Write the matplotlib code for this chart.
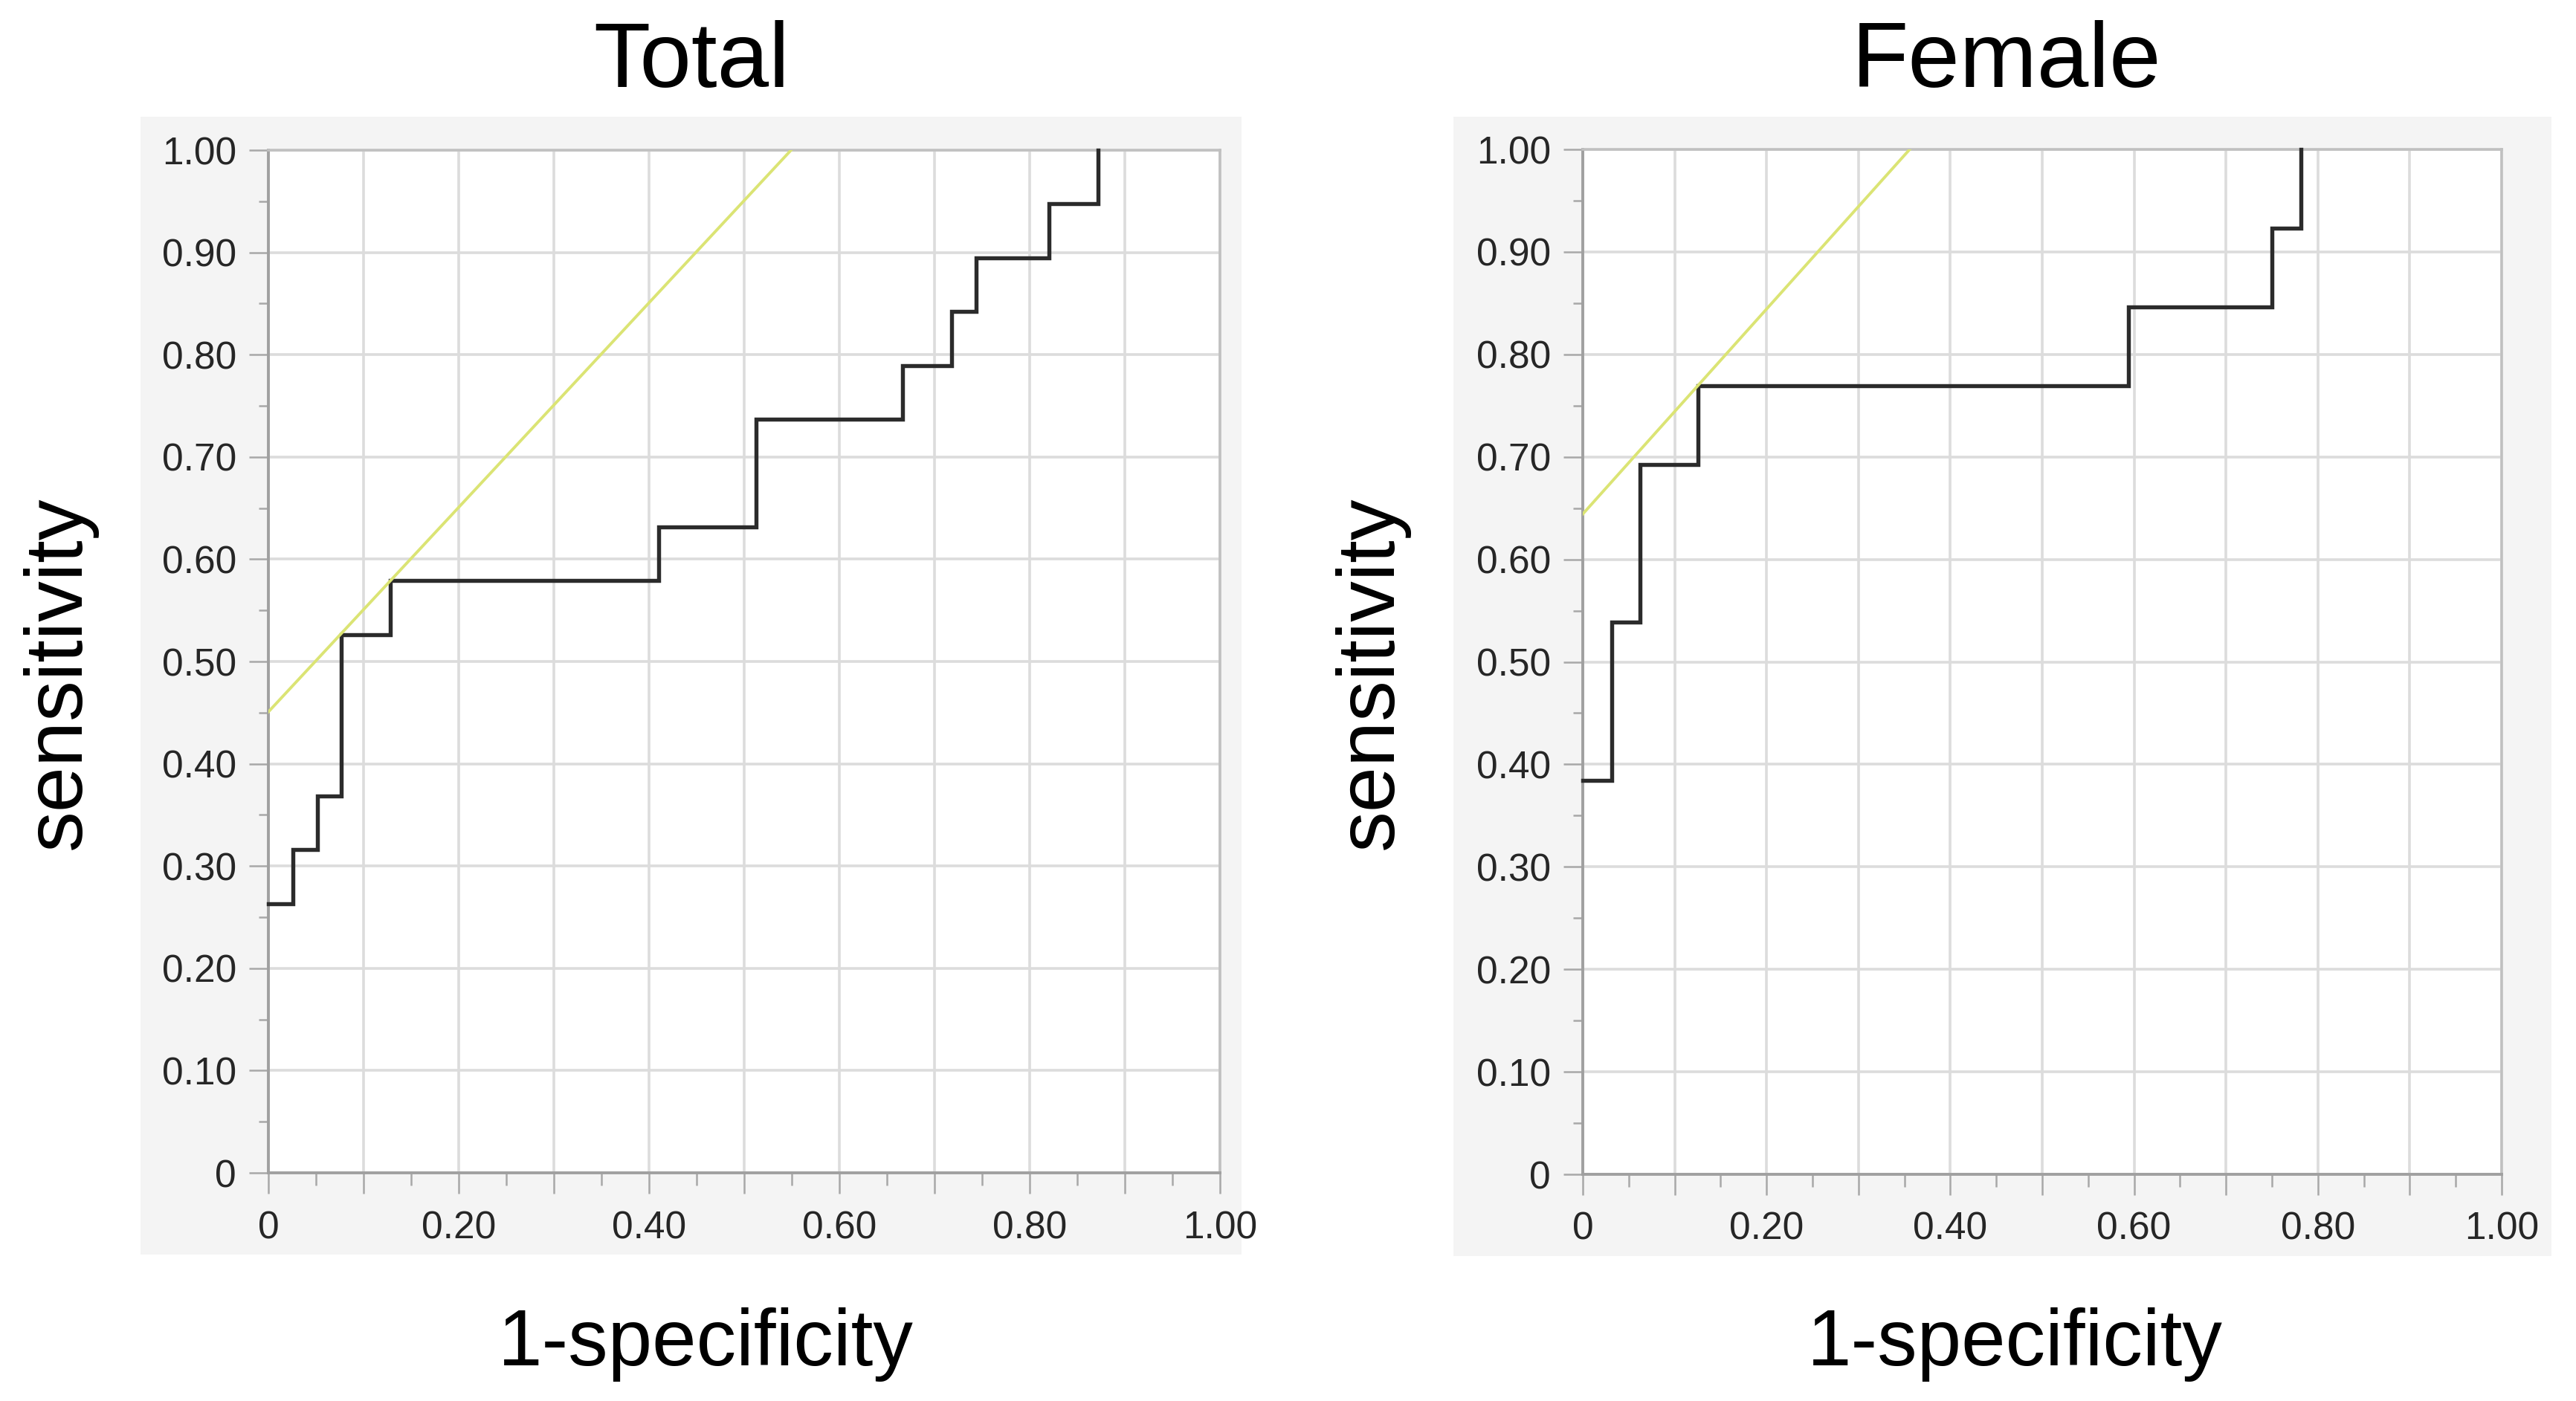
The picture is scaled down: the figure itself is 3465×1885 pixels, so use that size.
import matplotlib
matplotlib.use("Agg")
import matplotlib.pyplot as plt
from matplotlib.patches import Rectangle
import numpy as np

# ---- data ----
total_fpr = [0, 1/39, 2/39, 3/39, 5/39, 16/39, 20/39, 26/39, 28/39, 29/39, 32/39, 34/39]
total_tpr = [5/19, 6/19, 7/19, 10/19, 11/19, 12/19, 14/19, 15/19, 16/19, 17/19, 18/19, 19/19]
total_opt = (5/39, 11/19)

female_fpr = [0, 1/32, 2/32, 4/32, 19/32, 24/32, 25/32]
female_tpr = [5/13, 7/13, 9/13, 10/13, 11/13, 12/13, 13/13]
female_opt = (4/32, 10/13)

titles = ["Total", "Female"]
xlabel = "1-specificity"
ylabel = "sensitivity"
tick_vals = [round(0.1 * i, 2) for i in range(11)]
xtick_labels = ["0", "", "0.20", "", "0.40", "", "0.60", "", "0.80", "", "1.00"]
ytick_labels = ["0", "0.10", "0.20", "0.30", "0.40", "0.50", "0.60", "0.70", "0.80", "0.90", "1.00"]

W, H = 3465, 1885
DPI = 100
fig = plt.figure(figsize=(W / DPI, H / DPI), dpi=DPI)
fig.patch.set_facecolor("white")

FONT = "Liberation Sans"

def px_rect(x0, y0, x1, y1):
    return [x0 / W, 1 - y1 / H, (x1 - x0) / W, (y1 - y0) / H]

# panels (light grey background)
for (x0, y0, x1, y1) in [(189, 157, 1670, 1688), (1955, 157, 3432, 1690)]:
    fig.patches.append(Rectangle((x0 / W, 1 - y1 / H), (x1 - x0) / W, (y1 - y0) / H,
                                 transform=fig.transFigure, facecolor="#f4f4f4",
                                 edgecolor="none", zorder=-10))

panels = [
    dict(rect=px_rect(361, 202, 1641, 1578), fpr=total_fpr, tpr=total_tpr, opt=total_opt,
         title=titles[0], tx=930, ylx=80, xlx=949),
    dict(rect=px_rect(2129, 201, 3365, 1580), fpr=female_fpr, tpr=female_tpr, opt=female_opt,
         title=titles[1], tx=2699, ylx=1845, xlx=2710),
]

for p in panels:
    ax = fig.add_axes(p["rect"])
    ax.set_zorder(5)
    ax.set_facecolor("white")
    ax.set_xlim(0, 1)
    ax.set_ylim(0, 1)

    ax.set_xticks(tick_vals)
    ax.set_xticklabels(xtick_labels)
    ax.set_yticks(tick_vals)
    ax.set_yticklabels(ytick_labels)
    ax.set_xticks(np.arange(0.05, 1.0, 0.1), minor=True)
    ax.set_yticks(np.arange(0.05, 1.0, 0.1), minor=True)

    ax.grid(True, which="major", color="#dcdcdc", linewidth=2.6, zorder=1)
    ax.set_axisbelow(True)
    ax.tick_params(axis="x", which="major", length=20, width=1.8, color="#a8a8a8",
                   pad=16, labelsize=37, labelcolor="#262626")
    ax.tick_params(axis="x", which="minor", length=12, width=1.8, color="#a8a8a8")
    ax.tick_params(axis="y", which="major", length=19, width=1.8, color="#a8a8a8",
                   pad=12, labelsize=37, labelcolor="#262626")
    ax.tick_params(axis="y", which="minor", length=9.5, width=1.8, color="#a8a8a8")
    for lab in ax.get_xticklabels() + ax.get_yticklabels():
        lab.set_fontfamily(FONT)

    for side in ["left", "bottom"]:
        ax.spines[side].set_color("#a0a0a0")
        ax.spines[side].set_linewidth(2.8)
    for side in ["top", "right"]:
        ax.spines[side].set_color("#c0c0c0")
        ax.spines[side].set_linewidth(2.6)

    # ROC step curve
    ax.plot(p["fpr"], p["tpr"], drawstyle="steps-post", color="#2b2b2b",
            linewidth=3.9, zorder=3, clip_on=False, solid_joinstyle="miter")

    # tangent (slope 1) line through the optimal cut-off point
    fx, ty = p["opt"]
    c = ty - fx
    ax.plot([0, 1 - c], [c, 1], color="#dbe474", linewidth=2.8, zorder=4)

    # texts
    fig.text(p["tx"] / W, 1 - 117 / H, p["title"], ha="center", va="baseline",
             fontsize=90, fontfamily=FONT, color="black")
    fig.text(p["ylx"] / W, 1 - 905 / H, ylabel, ha="center", va="center",
             rotation=90, fontsize=79, fontfamily=FONT, color="black")
    fig.text(p["xlx"] / W, 1 - 1837 / H, xlabel, ha="center", va="baseline",
             fontsize=77, fontfamily=FONT, color="black")

fig.savefig("out.png", dpi=DPI, facecolor="white")
